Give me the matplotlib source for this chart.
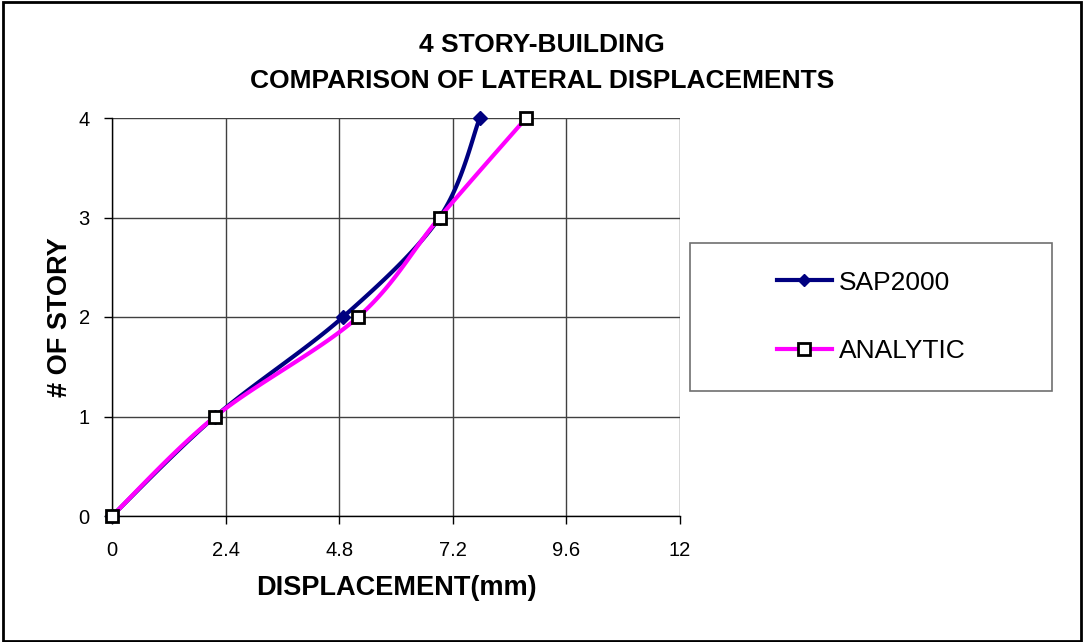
import numpy as np
import matplotlib.pyplot as plt
from matplotlib.patches import Rectangle

plt.rcParams['font.family'] = ['Liberation Sans', 'DejaVu Sans']

# lateral displacement (mm) at each story level
stories = [0, 1, 2, 3, 4]
sap2000 = [0.0, 2.18, 4.88, 6.92, 7.77]
analytic = [0.0, 2.18, 5.20, 6.92, 8.75]
x_ticks = [0, 2.4, 4.8, 7.2, 9.6, 12]
y_ticks = [0, 1, 2, 3, 4]


def smooth(xs, ys, n=30):
    """Catmull-Rom style smoothed line through the points (as spreadsheet charts do)."""
    p = np.column_stack([xs, ys]).astype(float)
    p = np.vstack([p[0], p, p[-1]])
    out = []
    for i in range(1, len(p) - 2):
        p0, p1, p2, p3 = p[i - 1], p[i], p[i + 1], p[i + 2]
        c1 = p1 + (p2 - p0) / 6.0
        c2 = p2 - (p3 - p1) / 6.0
        t = np.linspace(0, 1, n)[:, None]
        seg = ((1 - t) ** 3) * p1 + 3 * ((1 - t) ** 2) * t * c1 + 3 * (1 - t) * t ** 2 * c2 + t ** 3 * p2
        out.append(seg if i == 1 else seg[1:])
    out = np.vstack(out)
    return out[:, 0], out[:, 1]


W, H = 1084, 642
fig = plt.figure(figsize=(W / 100, H / 100), dpi=100)
ax = fig.add_axes([112 / W, 1 - 516 / H, (680 - 112) / W, (516 - 118) / H])

ax.set_xlim(0, 12)
ax.set_ylim(0, 4)
ax.set_xticks(x_ticks)
ax.set_xticklabels(['0', '2.4', '4.8', '7.2', '9.6', '12'])
ax.set_yticks(y_ticks)
ax.grid(True, color='#404040', linewidth=1.0)
ax.set_axisbelow(True)
for side in ('top', 'right'):
    ax.spines[side].set_visible(False)
for side in ('left', 'bottom'):
    ax.spines[side].set_color('black')
    ax.spines[side].set_linewidth(1.0)
ax.tick_params(direction='out', length=6, width=1, labelsize=14.5, pad=12)
ax.tick_params(axis='y', pad=10)

sx, sy = smooth(sap2000, stories)
ax.plot(sx, sy, color='#000080', linewidth=3, solid_capstyle='round', zorder=3)
ax.plot(sap2000, stories, linestyle='none', marker='D', markersize=7,
        color='#000080', zorder=4, clip_on=False)

axx, axy = smooth(analytic, stories)
ax.plot(axx, axy, color='#FF00FF', linewidth=3, solid_capstyle='round', zorder=3)
ax.plot(analytic, stories, linestyle='none', marker='s', markersize=9,
        markerfacecolor='white', markeredgecolor='black', markeredgewidth=2,
        zorder=5, clip_on=False)

ax.set_xlabel('DISPLACEMENT(mm)', fontsize=19.5, fontweight='bold', va='center')
ax.set_ylabel('# OF STORY', fontsize=19.5, fontweight='bold', va='center')
ax.xaxis.set_label_coords(0.5, (516 - 588) / 398)
ax.yaxis.set_label_coords((60 - 112) / 568, 0.5)

fig.text(0.5, 1 - 45 / H, '4 STORY-BUILDING', ha='center', va='center',
         fontsize=19, fontweight='bold')
fig.text(0.5, 1 - 81 / H, 'COMPARISON OF LATERAL DISPLACEMENTS', ha='center',
         va='center', fontsize=19, fontweight='bold')

# legend box on the right
lx0, lx1, ly0, ly1 = 690, 1052, 243, 391
fig.patches.append(Rectangle((lx0 / W, 1 - ly1 / H), (lx1 - lx0) / W, (ly1 - ly0) / H,
                             transform=fig.transFigure, fill=False,
                             edgecolor='#707070', linewidth=1.2))
h1 = plt.Line2D([], [], color='#000080', linewidth=3, marker='D', markersize=6)
h2 = plt.Line2D([], [], color='#FF00FF', linewidth=3, marker='s', markersize=8,
                markerfacecolor='white', markeredgecolor='black', markeredgewidth=2)
fig.legend([h1, h2], ['SAP2000', 'ANALYTIC'], loc='center',
           bbox_to_anchor=((lx0 + lx1) / 2 / W, 1 - (ly0 + ly1) / 2 / H),
           frameon=False, fontsize=19, handlelength=2.1, handletextpad=0.25,
           labelspacing=1.7)

# outer chart border
fig.patches.append(Rectangle((3 / W, 1 / H), (1081 - 3) / W, (640 - 1) / H,
                             transform=fig.transFigure, fill=False,
                             edgecolor='black', linewidth=2))

fig.savefig('out.png', dpi=100)
